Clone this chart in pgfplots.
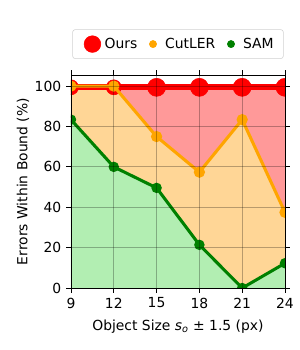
\documentclass[border=0pt]{standalone}
\usepackage{fontspec}
\setmainfont{DejaVu Sans}
\usepackage{pgfplots}
\pgfplotsset{compat=1.18}
\usepgfplotslibrary{fillbetween}
\definecolor{cOrange}{RGB}{255,165,0}
\definecolor{cGreen}{RGB}{0,128,0}
\definecolor{fRed}{RGB}{255,153,153}
\definecolor{fOrange}{RGB}{255,214,150}
\definecolor{fGreen}{RGB}{178,238,178}
\begin{document}
\begin{tikzpicture}
\begin{axis}[
  scale only axis, width=154.1pt, height=153.4pt,
  xmin=9, xmax=24, ymin=0, ymax=105.5,
  xtick={9,12,15,18,21,24}, ytick={0,20,40,60,80,100},
  tick align=outside, major tick length=3.5pt,
  tick style={black, line width=0.6pt},
  axis line style={line width=0.6pt},
  grid=major, grid style={black, opacity=0.28, line width=0.6pt},
  axis on top,
  clip marker paths=true,
  /pgf/number format/assume math mode=true,
  ticklabel style={font=\fontsize{10}{12}\selectfont},
  label style={font=\fontsize{10}{12}\selectfont},
  xlabel={Object Size \textit{s}\textsubscript{\textit{o}} ± 1.5 (px)},
  ylabel={Errors Within Bound (\%)},
  xlabel style={yshift=-1.5pt},
  ylabel style={yshift=-3pt},
  legend columns=3,
  legend image code/.code={\path (-0.6pt,0) (0.6cm-2pt,0); \draw[#1] plot coordinates {(0.3cm,0cm)};},
  legend style={at={(0.5,1.0756)}, anchor=south, draw=black!18, rounded corners=2pt,
    font=\fontsize{10}{12}\selectfont, inner xsep=5pt, inner ysep=4pt,
    /tikz/every even column/.append style={column sep=0pt}},
  legend cell align=left,
]
\addplot[name path=ours, draw=none, forget plot] coordinates {(9,99.4) (12,99.4) (15,99.4) (18,99.4) (21,99.4) (24,99.4)};
\addplot[name path=cut, draw=none, forget plot] coordinates {(9,100) (12,100) (15,75) (18,57.4) (21,83.4) (24,37.5)};
\addplot[name path=sam, draw=none, forget plot] coordinates {(9,83.4) (12,60) (15,49.6) (18,21.4) (21,0) (24,12.3)};
\addplot[name path=base, draw=none, forget plot] coordinates {(9,0) (24,0)};
\addplot[fRed, forget plot] fill between[of=ours and cut];
\addplot[fOrange, forget plot] fill between[of=cut and sam];
\addplot[fGreen, forget plot] fill between[of=sam and base];
% lines
\addplot[red, line width=4.3pt, forget plot] coordinates {(9,99.4) (24,99.4)};
\addplot[red, only marks, mark=*, mark size=5.4pt, forget plot] coordinates {(9,99.4) (12,99.4)};
\addplot[red, only marks, mark=*, mark size=6.5pt, forget plot] coordinates {(15,99.4) (18,99.4) (21,99.4) (24,99.4)};
\addplot[cOrange, line width=2.2pt, mark=*, mark size=2.9pt, forget plot] coordinates {(9,100) (12,100) (15,75) (18,57.4) (21,83.4) (24,37.5)};
\addplot[cGreen, line width=2.2pt, mark=*, mark size=2.6pt, forget plot] coordinates {(9,83.4) (12,60) (15,49.6) (18,21.4) (21,0) (24,12.3)};
\addlegendimage{only marks, mark=*, red, mark size=6pt}
\addlegendentry{Ours}
\addlegendimage{only marks, mark=*, cOrange, mark size=2.6pt}
\addlegendentry{CutLER}
\addlegendimage{only marks, mark=*, cGreen, mark size=2.6pt}
\addlegendentry{SAM}
\end{axis}
\pgfresetboundingbox
\path[use as bounding box] ([xshift=-51.1pt,yshift=-44.6pt]current axis.south west) rectangle ([xshift=10.8pt,yshift=54pt]current axis.north east);
\end{tikzpicture}
\end{document}
